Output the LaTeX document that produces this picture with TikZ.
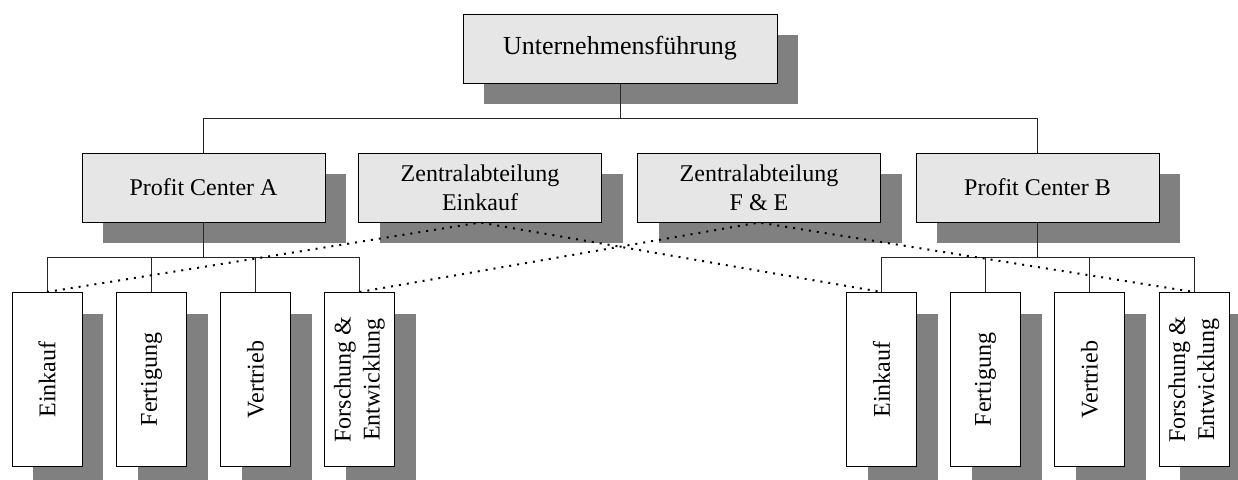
\documentclass[tikz,border=0pt]{standalone}
\usepackage{fontspec}
\setmainfont{Liberation Serif}
\usetikzlibrary{shadows}

\definecolor{boxgray}{HTML}{E6E6E6}
\definecolor{shadegray}{HTML}{808080}

\tikzset{
	unit/.style={draw=black, line width=0.5pt, fill=boxgray, inner sep=0pt, align=center,
		minimum width=121.5pt, minimum height=34.5pt, font=\fontsize{12}{14.5}\selectfont,
		drop shadow={shadow xshift=10.5pt, shadow yshift=-10.5pt, fill=shadegray, opacity=1}},
	leaf/.style={unit, fill=white, rotate=90, anchor=east, minimum width=87pt, minimum height=35pt},
	tree/.style={draw=black!85, line width=0.5pt},
	link/.style={line width=1pt, dash pattern=on 1pt off 3pt}
}

\begin{document}
\begin{tikzpicture}[x=0.5pt, y=0.5pt]
	% Rows
	\def\toprowy{-48.5}
	\def\midrowy{-187.5}
	\def\leafy{-292}
	\def\bary{-118}
	\def\lowbary{-257}

	\useasboundingbox (0,0) rectangle (1238,-479);

	% Management and centres
	\node[unit, minimum width=157pt, font=\fontsize{13}{15}\selectfont] (lead) at (620,\toprowy) {Unternehmensführung};
	\node[unit] (pca) at (203.5,\midrowy) {Profit Center A};
	\node[unit] (zeink) at (480,\midrowy) {Zentralabteilung\\Einkauf};
	\node[unit] (zfue) at (759,\midrowy) {Zentralabteilung\\F \& E};
	\node[unit] (pcb) at (1037.5,\midrowy) {Profit Center B};

	% Departments A
	\node[leaf] (aeink) at (47,\leafy) {Einkauf};
	\node[leaf] (afert) at (151.5,\leafy) {Fertigung};
	\node[leaf] (avert) at (255.5,\leafy) {Vertrieb};
	\node[leaf] (afue) at (359.5,\leafy) {Forschung \&\\Entwicklung};

	% Departments B
	\node[leaf] (beink) at (881.5,\leafy) {Einkauf};
	\node[leaf] (bfert) at (985.5,\leafy) {Fertigung};
	\node[leaf] (bvert) at (1089.5,\leafy) {Vertrieb};
	\node[leaf] (bfue) at (1194,\leafy) {Forschung \&\\Entwicklung};

	\coordinate (bar) at (0,\bary);
	\coordinate (lowbar) at (0,\lowbary);

	\draw[tree] (lead.south) -- (lead.south |- bar);
	\draw[tree] (pca.north) -- (pca.north |- bar) -- (pcb.north |- bar) -- (pcb.north);

	\draw[tree] (pca.south) -- (pca.south |- lowbar);
	\draw[tree] (aeink.east) -- (aeink.east |- lowbar) -- (afue.east |- lowbar) -- (afue.east);
	\draw[tree] (afert.east) -- (afert.east |- lowbar);
	\draw[tree] (avert.east) -- (avert.east |- lowbar);

	\draw[tree] (pcb.south) -- (pcb.south |- lowbar);
	\draw[tree] (beink.east) -- (beink.east |- lowbar) -- (bfue.east |- lowbar) -- (bfue.east);
	\draw[tree] (bfert.east) -- (bfert.east |- lowbar);
	\draw[tree] (bvert.east) -- (bvert.east |- lowbar);

	% Central links
	\draw[link] (aeink.east) -- (zeink.south) -- (beink.east);
	\draw[link] (afue.east) -- (zfue.south) -- (bfue.east);
\end{tikzpicture}
\end{document}
